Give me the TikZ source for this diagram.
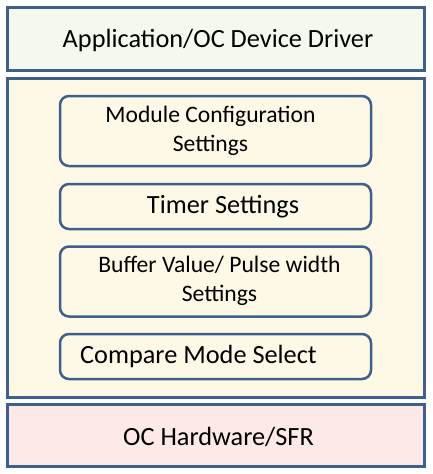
\documentclass[tikz,border=0pt]{standalone}
\usepackage{fontspec}
\setmainfont{Carlito}
\usetikzlibrary{positioning}

\definecolor{edgeblue}{HTML}{3F5F8C}
\definecolor{appfill}{HTML}{F3F9EF}
\definecolor{midfill}{HTML}{FEF8E6}
\definecolor{hwfill}{HTML}{FDE9E8}

\begin{document}
\begin{tikzpicture}[x=1pt,y=-1pt,
  Layer/.style={draw=edgeblue,line width=3pt,minimum width=417pt,inner sep=0pt},
  Setting/.style={draw=edgeblue,line width=2.5pt,fill=midfill,rounded corners=9pt,
    minimum width=311pt,inner sep=0pt},
  Label/.style={align=center,inner sep=0pt,font=\fontsize{26.3}{30}\selectfont},
  Label2/.style={align=center,inner sep=0pt,font=\fontsize{23.6}{28.5}\selectfont}]
  \useasboundingbox (0,0) rectangle (432,474);
  % layers
  \node[Layer,fill=appfill,minimum height=63pt] (App) at (215.5,38.5) {};
  \node[Layer,fill=midfill,minimum height=319pt] (Mid) at (215.5,237.5) {};
  \node[Layer,fill=hwfill,minimum height=62pt] (HW) at (215.5,435.5) {};
  % settings inside the middle layer
  \node[Setting,minimum height=70pt] (Cfg) at (215.5,131) {};
  \node[Setting,minimum height=45pt] (Tmr) at (215.5,206.5) {};
  \node[Setting,minimum height=70pt] (Buf) at (215.5,281.5) {};
  \node[Setting,minimum height=45pt] (Cmp) at (215.5,356.5) {};
  % texts
  \node[Label] (AppText) at (218,40) {Application/OC Device Driver};
  \node[Label2] (CfgText) at (210.5,131) {Module Configuration\\Settings};
  \node[Label] (TmrText) at (223,207) {Timer Settings};
  \node[Label2] (BufText) at (219.5,281) {Buffer Value/ Pulse width\\Settings};
  \node[Label] (CmpText) at (198.5,356) {Compare Mode Select};
  \node[Label] (HWText) at (218.5,437) {OC Hardware/SFR};
\end{tikzpicture}
\end{document}
